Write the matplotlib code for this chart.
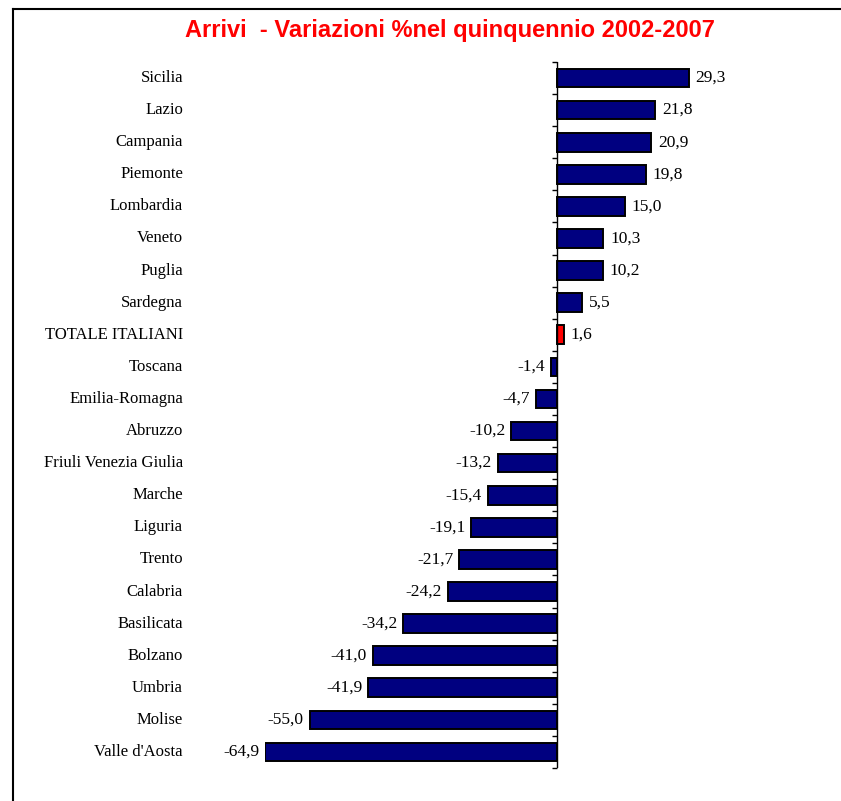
import matplotlib
matplotlib.use("Agg")
import matplotlib.pyplot as plt
from matplotlib.lines import Line2D
import matplotlib.transforms as mtransforms

categories = ["Sicilia", "Lazio", "Campania", "Piemonte", "Lombardia", "Veneto",
              "Puglia", "Sardegna", "TOTALE ITALIANI", "Toscana", "Emilia-Romagna",
              "Abruzzo", "Friuli Venezia Giulia", "Marche", "Liguria", "Trento",
              "Calabria", "Basilicata", "Bolzano", "Umbria", "Molise", "Valle d'Aosta"]
values = [29.3, 21.8, 20.9, 19.8, 15.0, 10.3, 10.2, 5.5, 1.6, -1.4, -4.7, -10.2,
          -13.2, -15.4, -19.1, -21.7, -24.2, -34.2, -41.0, -41.9, -55.0, -64.9]
highlight = "TOTALE ITALIANI"
title = "Arrivi  - Variazioni %nel quinquennio 2002-2007"

W, H = 841, 801
fig = plt.figure(figsize=(W / 100, H / 100), dpi=100)

# axes geometry in pixels
scale = 4.5
zero_px = 557
xmin, xmax = -65.0, 40.0
left_px = zero_px + xmin * scale
right_px = zero_px + xmax * scale
top_px, bot_px = 62, 768
ax = fig.add_axes([left_px / W, 1 - bot_px / H, (right_px - left_px) / W, (bot_px - top_px) / H])
ax.set_xlim(xmin, xmax)
n = len(categories)
ax.set_ylim(n - 0.5, -0.5)

colors = ["#ff0000" if c == highlight else "#000080" for c in categories]
ypos = list(range(n))
ax.barh(ypos, values, height=0.58, color=colors, edgecolor="black", linewidth=1.4, zorder=3)

for sp in ax.spines.values():
    sp.set_visible(False)
ax.set_xticks([])
ax.set_yticks([])
# vertical axis at zero with ticks between categories
ax.axvline(0, color="black", linewidth=1.0, zorder=4)
for k in range(n + 1):
    ax.plot([-1.2, 0], [k - 0.5, k - 0.5], color="black", linewidth=1.0,
            solid_capstyle="butt", clip_on=False, zorder=4)

serif = ["Liberation Serif", "DejaVu Serif"]
trans = mtransforms.blended_transform_factory(fig.transFigure, ax.transData)
for y, c, v in zip(ypos, categories, values):
    ax.text(183 / W, y, c, transform=trans, ha="right", va="center",
            fontsize=12, family=serif)
    lab = f"{v:.1f}".replace(".", ",")
    if v >= 0:
        ax.text(v + 1.5, y, lab, ha="left", va="center", fontsize=12.5, family=serif)
    else:
        ax.text(v - 1.3, y, lab, ha="right", va="center", fontsize=12.5, family=serif)

fig.text(450 / W, 1 - 30 / H, title, ha="center", va="center", color="#ff0000",
         fontsize=17, fontweight="bold", family=["Liberation Sans", "DejaVu Sans"])

# outer frame (left and top)
fig.add_artist(Line2D([13 / W, 13 / W], [0, 1 - 9 / H], transform=fig.transFigure,
                      color="black", linewidth=1.5))
fig.add_artist(Line2D([13 / W, 1], [1 - 9 / H, 1 - 9 / H], transform=fig.transFigure,
                      color="black", linewidth=1.5))

fig.savefig("out.png", dpi=100, facecolor="white")
